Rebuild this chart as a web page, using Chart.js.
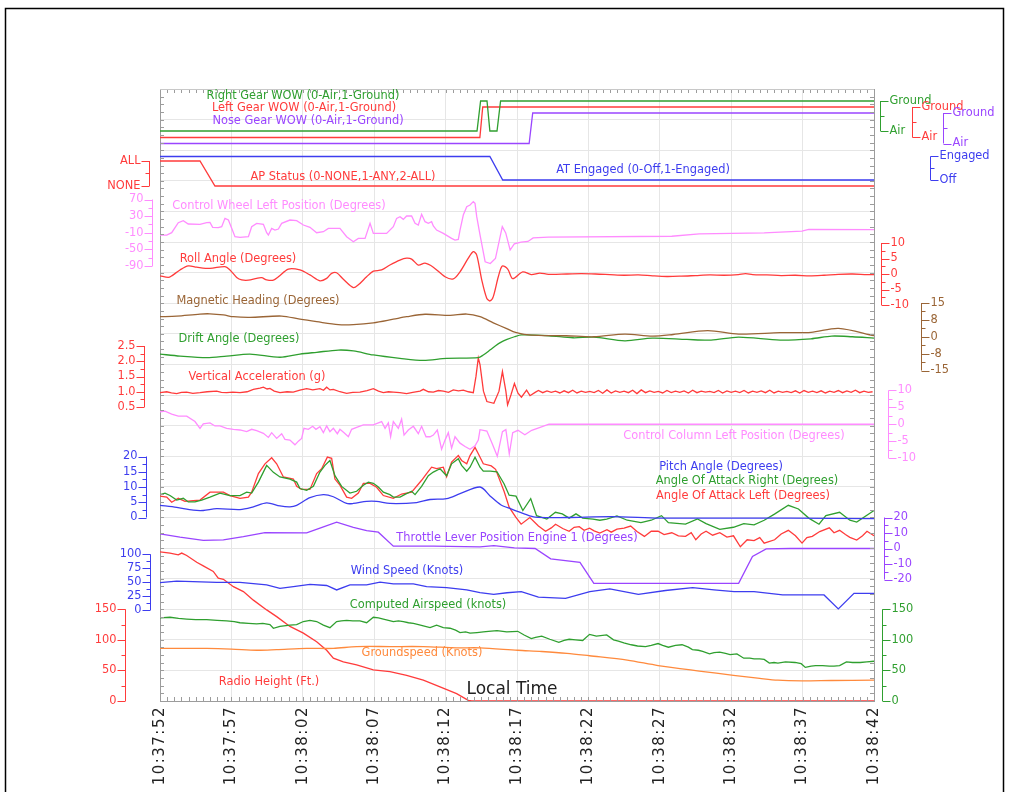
<!DOCTYPE html>
<html>
<head>
<meta charset="utf-8">
<title>Flight data - approach and landing</title>
<script src="https://cdn.jsdelivr.net/npm/chart.js@4.4.1/dist/chart.umd.min.js"></script>
<style>
  html, body { margin: 0; padding: 0; background: #fff; overflow: hidden; }
  canvas { display: block; }
</style>
</head>
<body>
<canvas id="fdr" width="1017" height="792"></canvas>
<script>
// x values are seconds after 10:37:52 local time
const timeLabels = ['10:37:52', '10:37:57', '10:38:02', '10:38:07', '10:38:12', '10:38:17',
                    '10:38:22', '10:38:27', '10:38:32', '10:38:37', '10:38:42'];

// discrete parameters
const rightGearWow = [[0,0],[22.2,0],[22.45,1],[22.9,1],[23.1,0],[23.6,0],[23.85,1],[50,1]];
const leftGearWow = [[0,0],[22.4,0],[22.6,1],[50,1]];
const noseGearWow = [[0,0],[25.85,0],[26.1,1],[50,1]];
const atEngaged = [[0,1],[23.1,1],[24.0,0],[50,0]];
const apStatus = [[0,2],[2.8,2],[3.85,0],[50,0]];

// [seconds, value]
const controlWheel = [[0,-15.5],[0.47,-15.5],[0.82,-9.9],[1.28,14.2],[1.63,19.0],[1.98,11.0],[2.8,10.2],[3.27,14.2],[3.5,15.0],[3.69,3.0],[4.08,2.2],[4.32,4.6],[4.55,24.6],[4.79,20.6],[5.02,0.6],[5.25,-19.5],[5.6,-21.1],[6.19,-19.5],[6.42,4.6],[6.77,12.6],[7.24,10.2],[7.47,-9.9],[7.59,-15.5],[7.82,0.6],[8.05,-3.5],[8.29,-1.1],[8.52,12.6],[9.1,20.6],[9.57,19.0],[10.04,8.6],[10.5,3.0],[10.97,-9.9],[11.44,-7.5],[11.79,0.6],[12.6,0.6],[13.07,-19.5],[13.54,-31.6],[13.89,-23.5],[14.36,-23.5],[14.71,12.6],[14.94,-11.5],[15.87,-11.5],[16.34,4.6],[16.57,24.6],[16.81,28.7],[17.04,22.2],[17.27,30.3],[17.62,30.3],[17.86,12.6],[18.09,8.6],[18.32,34.3],[18.56,16.6],[18.79,12.6],[19.02,16.6],[19.14,6.2],[19.37,-3.5],[19.84,-11.5],[20.42,-23.5],[20.66,-27.6],[20.89,-26.0],[21.01,-3.5],[21.24,32.7],[21.48,52.7],[21.71,56.8],[21.94,64.8],[22.06,60.8],[22.18,28.7],[22.41,-15],[22.77,-80],[23.13,-84],[23.49,-72],[23.97,4.7],[24.21,-10.3],[24.52,-51.5],[24.81,-36.7],[25.29,-32.4],[25.77,-31],[26.13,-22.5],[27.2,-20.6],[35.84,-18.4],[37.76,-12.7],[42.31,-10.3],[44.95,-6.2],[45.43,-2],[50,-2.5]];

const rollAngle = [[0,-0.6],[0.58,-1.1],[0.82,-0.6],[1.4,1.3],[1.98,2.6],[2.57,2.2],[3.5,1.8],[4.55,2.4],[4.9,1.3],[5.37,-1.1],[5.72,-1.9],[6.19,-2.0],[6.77,-1.4],[7.12,-1.2],[7.47,-1.9],[7.94,-2.0],[8.29,-0.9],[8.99,1.6],[9.8,1.3],[10.5,-0.3],[11.2,-2.2],[11.67,-1.4],[12.02,0.2],[12.37,0.4],[12.84,-1.7],[13.54,-4.4],[13.89,-3.5],[14.47,-0.9],[14.94,0.9],[15.52,1.3],[16.1,2.9],[16.8,4.5],[17.27,5.1],[17.62,4.8],[18.09,2.9],[18.56,3.5],[19.14,2.2],[19.96,-0.9],[20.54,-1.6],[21.01,0.7],[21.59,5.1],[21.94,7.2],[22.18,6.1],[22.53,-1.9],[22.88,-7.8],[23.11,-8.7],[23.34,-7.3],[23.69,-0.9],[23.97,2.6],[24.35,1.6],[24.7,-1.5],[25.4,0.7],[26.0,-0.2],[26.6,0.3],[27.2,-0.1],[28.5,0],[29.5,0.1],[30.5,0],[31.5,-0.2],[32.5,-0.4],[33.5,-0.3],[34.5,-0.6],[35.5,-0.8],[36.5,-0.7],[37.5,-0.5],[38.5,-0.3],[39.5,-0.4],[40.5,-0.2],[41,0.1],[41.5,-0.2],[42.5,-0.3],[43.5,-0.5],[44.5,-0.4],[45.5,-0.6],[46.5,-0.4],[47.5,-0.1],[48.5,0],[49.5,-0.2],[50,-0.2]];

const magneticHeading = [[0,8.9],[1.17,9.2],[2.8,10.1],[3.5,10.2],[4.44,9.7],[5.14,8.9],[6.3,8.6],[8.52,9.2],[9.8,7.8],[10.97,6.7],[12.49,5.4],[13.54,5.4],[14.94,6.2],[16.34,7.8],[17.27,8.9],[18.56,10.0],[20.31,9.5],[21.48,10.1],[22.41,8.9],[23.34,6.2],[24.28,3.6],[24.9,1.9],[25.5,1.1],[26.5,0.6],[28.45,0.45],[30.38,0],[32.55,1.2],[34.48,0.3],[35.93,1.0],[38.35,2.7],[40.52,1.2],[43.42,1.8],[45.59,1.95],[47.52,3.75],[50,0.45]];

const driftAngle = [[0,-7.7],[1.4,-8.6],[3.27,-9.3],[4.67,-8.6],[6.3,-7.7],[8.4,-9.1],[9.8,-7.7],[10.97,-6.9],[12.49,-5.9],[13.54,-6.3],[14.94,-8.1],[16.8,-9.6],[18.44,-10.5],[20.07,-9.6],[22.29,-9.3],[22.64,-8.1],[23.13,-5.8],[23.5,-4.0],[23.86,-2.5],[24.3,-1.2],[24.82,0],[25.31,0.8],[27.24,0.45],[28.93,-0.45],[30.38,-0.15],[32.55,-1.8],[34.48,-0.6],[36.9,-1.2],[38.59,-1.5],[40.52,-0.15],[43.42,-1.5],[45.59,-0.9],[47.04,0.3],[48.49,0],[50,-0.6]];

const vertAccel = [[0,0.97],[0.47,1.0],[0.8,0.96],[1.17,0.94],[1.5,0.98],[1.87,0.99],[2.3,0.95],[2.8,0.97],[3.3,1.0],[3.97,1.02],[4.3,0.98],[4.67,0.97],[5.1,0.99],[5.6,0.97],[6.1,1.0],[6.54,1.08],[7.0,1.12],[7.24,1.15],[7.5,1.09],[7.7,1.11],[8.0,1.02],[8.4,0.97],[8.9,1.0],[9.33,0.99],[9.8,1.05],[10.27,1.10],[10.7,1.06],[11.2,1.10],[11.45,1.05],[11.67,1.15],[11.9,1.06],[12.14,1.08],[12.6,1.0],[13.07,0.95],[13.5,0.98],[14.0,0.99],[14.5,1.04],[14.94,1.10],[15.3,1.02],[15.64,0.97],[16.0,1.0],[16.34,0.99],[16.8,0.97],[17.27,0.94],[17.7,0.98],[18.21,1.02],[18.44,1.08],[18.8,1.0],[19.14,0.99],[19.5,1.04],[19.84,1.02],[20.2,0.98],[20.54,1.06],[20.9,1.03],[21.24,1.05],[21.6,1.0],[21.94,0.97],[22.13,1.51],[22.29,2.11],[22.41,1.89],[22.65,1.02],[22.89,0.68],[23.38,0.62],[23.74,1.02],[23.98,1.66],[24.22,1.02],[24.34,0.57],[24.58,0.9],[24.82,1.27],[25.07,0.95],[25.31,0.82],[25.67,1.05],[25.91,0.87],[26.27,0.98]];
// after touchdown, sampled every 0.3 s from 26.5 s
const vertAccelTail = [1.04,0.97,1.03,0.98,1.02,0.96,1.03,0.97,1.05,0.96,
  1.02,0.98,1.01,0.97,1.04,0.95,1.06,0.96,1.03,0.98,
  1.02,0.97,1.05,0.94,1.06,0.97,1.03,0.98,1.01,0.96,
  1.04,0.97,1.02,0.98,1.03,0.96,1.05,0.97,1.02,0.99,
  1.01,0.97,1.04,0.96,1.03,0.98,1.02,0.97,1.04,0.96,
  1.02,0.98,1.03,0.97,1.05,0.96,1.02,0.98,1.01,0.97,
  1.03,0.96,1.04,0.98,1.02,0.97,1.03,0.96,1.02,0.98,
  1.04,0.97,1.03,0.98,1.05,0.97,1.02,0.98,1.00];

const controlColumn = [[0,3.7],[0.35,3.9],[0.82,3.0],[1.28,2.4],[1.87,2.4],[2.45,0.8],[2.8,-1.2],[3.03,0.1],[3.5,0.4],[3.85,-0.5],[4.2,-0.5],[4.67,-1.2],[5.14,-1.5],[5.6,-1.7],[6.07,-2.2],[6.42,-1.5],[6.77,-1.9],[7.24,-2.7],[7.59,-3.9],[7.82,-2.5],[8.17,-4.2],[8.52,-2.8],[8.75,-4.5],[9.1,-4.7],[9.45,-6.1],[9.69,-5.0],[9.92,-4.2],[10.08,-1.2],[10.39,-1.5],[10.69,-0.6],[10.92,-1.5],[11.2,-0.7],[11.44,-2.5],[11.67,-0.5],[11.9,-2.2],[12.14,-1.2],[12.42,-2.8],[12.6,-1.5],[12.89,-2.5],[13.19,-3.7],[13.42,-1.5],[13.77,-0.9],[14.24,-0.2],[14.94,-0.2],[15.52,0.8],[15.76,-1.2],[15.99,0.4],[16.15,-3.7],[16.34,0.8],[16.69,-1.2],[16.92,1.5],[17.09,-3.2],[17.39,-1.7],[17.74,-0.6],[18.09,-2.8],[18.32,-0.6],[18.63,-3.7],[18.91,-3.7],[19.14,-3.2],[19.42,-1.7],[19.72,-7.4],[19.96,-4.7],[20.19,-2.5],[20.42,-7.1],[20.66,-3.7],[21.01,-5.6],[21.36,-6.6],[21.71,-7.4],[22.06,-6.4],[22.29,-4.7],[22.41,-1.6],[22.89,-2.0],[23.26,-5.7],[23.62,-9.5],[23.98,-2.2],[24.22,-1.6],[24.46,-8.8],[24.7,-2.5],[25.07,-1.8],[25.55,-3.1],[26.03,-1.8],[26.52,-1.1],[27.24,0],[50,0]];

const pitchAngle = [[0,4.0],[1.17,3.3],[2.33,2.4],[3.03,2.3],[3.97,2.9],[5.6,2.6],[6.54,3.5],[7.47,4.8],[8.4,3.8],[9.1,3.5],[9.57,4.0],[10.5,6.5],[11.44,7.5],[12.14,6.8],[13.07,4.6],[13.54,4.6],[14.47,5.3],[15.17,5.3],[16.1,4.6],[17.97,4.9],[18.91,5.9],[20.07,6.2],[21.01,7.8],[22.41,10.0],[23.13,7.0],[23.86,4.2],[24.58,2.8],[25.55,1.1],[26.27,0.1],[28.45,0],[31.59,0.3],[34.97,-0.2],[37.87,-0.2],[44.14,-0.2],[50,-0.4]];

const aoaRight = [[0,7.5],[0.35,8.0],[0.7,7.2],[1.17,5.7],[1.63,6.3],[1.98,5.1],[2.45,5.1],[2.92,5.7],[3.5,6.7],[4.2,8.0],[4.9,7.2],[5.6,7.2],[6.07,8.3],[6.42,8.0],[6.89,11.6],[7.47,17.1],[7.94,14.8],[8.4,13.3],[9.1,12.6],[9.57,11.6],[9.8,9.5],[10.27,8.9],[10.74,10.2],[11.2,14.9],[11.55,17.1],[11.9,18.7],[12.25,13.7],[12.72,10.2],[13.3,8.0],[13.77,8.6],[14.24,10.6],[14.59,11.6],[14.94,11.2],[15.29,10.0],[15.64,8.3],[16.1,7.5],[16.34,6.7],[16.81,6.7],[17.16,7.6],[17.62,8.6],[17.86,7.5],[18.32,10.2],[18.79,13.7],[19.14,14.9],[19.61,16.0],[20.07,13.7],[20.42,17.6],[20.89,19.3],[21.12,17.1],[21.48,15.2],[21.71,16.5],[22.06,19.8],[22.41,16.5],[22.64,15.2],[23.13,15.2],[23.6,15.0],[24.1,11.0],[24.45,7.3],[24.93,7.0],[25.41,2.3],[25.96,6.2],[26.37,0.6],[27.09,-0.5],[27.69,1.7],[28.17,1.2],[28.65,-0.2],[29.13,1.2],[29.6,-0.2],[30.32,-0.5],[30.8,-0.9],[31.28,-0.5],[32.0,0.5],[32.72,-0.9],[33.68,-1.7],[34.4,-0.9],[35.12,0.6],[35.6,-1.7],[36.8,-2.2],[37.64,-0.5],[38.24,-2.0],[39.2,-3.9],[40.16,-3.2],[40.88,-2.0],[41.6,-2.4],[42.31,-0.9],[43.03,1.1],[44.0,4.0],[44.71,2.8],[45.43,-0.2],[46.15,-2.2],[46.63,0.6],[47.59,1.7],[48.31,-0.9],[48.79,-1.5],[50,2.3]];

const aoaLeft = [[0,7.0],[0.47,6.7],[0.82,5.0],[1.28,6.3],[1.75,5.3],[2.33,5.5],[2.8,5.7],[3.5,8.3],[4.44,8.3],[4.9,7.2],[5.6,6.3],[6.19,6.7],[6.42,8.3],[6.89,14.4],[7.35,17.6],[7.82,19.6],[8.17,17.6],[8.64,13.3],[9.34,12.6],[9.57,10.2],[9.92,9.2],[10.5,9.2],[10.97,14.4],[11.32,16.0],[11.72,19.8],[12.02,19.4],[12.25,12.6],[12.6,10.6],[13.07,6.7],[13.42,6.3],[13.89,8.0],[14.24,11.2],[14.71,11.2],[15.17,9.9],[15.64,7.2],[16.34,6.3],[16.92,7.7],[17.62,8.3],[18.32,12.2],[18.67,14.4],[19.02,16.5],[19.37,16.0],[19.84,16.5],[20.07,13.4],[20.42,18.2],[20.89,20.3],[21.12,18.7],[21.48,17.6],[21.71,20.3],[22.06,23.0],[22.29,20.9],[22.64,17.6],[23.2,16.9],[23.5,15.8],[24.1,8.5],[24.45,3.4],[24.9,0.2],[25.29,-2.2],[25.9,0],[26.5,-2.8],[27.0,-4.5],[27.4,-3.4],[27.7,-2.2],[28.2,-3.6],[28.65,-4.5],[29.0,-3.2],[29.36,-3.0],[29.7,-4.2],[30.08,-3.5],[30.4,-4.4],[30.8,-5.1],[31.3,-4.0],[31.6,-4.8],[32.0,-3.8],[32.5,-3.5],[32.96,-2.8],[33.4,-4.6],[33.92,-6.2],[34.4,-4.5],[34.88,-4.5],[35.3,-5.6],[35.84,-5.0],[36.3,-6.0],[36.8,-6.2],[37.2,-5.0],[37.52,-7.3],[37.9,-5.4],[38.24,-4.5],[38.7,-5.8],[39.2,-5.0],[39.7,-6.4],[40.16,-6.0],[40.64,-9.6],[41.12,-7.3],[41.6,-7.6],[42.0,-6.6],[42.31,-8.4],[43.04,-7.3],[43.5,-5.4],[44.0,-4.2],[44.5,-6.0],[44.96,-8.4],[45.3,-6.6],[45.68,-6.2],[46.2,-4.6],[46.87,-3.4],[47.2,-5.0],[47.59,-4.2],[48.0,-5.6],[48.31,-6.5],[48.79,-7.4],[49.2,-6.0],[49.51,-4.5],[50,-6.0]];

const throttleLever = [[0,9.5],[1.4,7.3],[3.03,5.2],[4.44,5.6],[5.84,7.7],[7.35,10.3],[10.27,10.1],[11.2,13.1],[12.37,17.0],[13.54,13.7],[14.47,11.6],[15.29,10.5],[16.34,1.5],[19.14,1.5],[22.41,1.1],[23.38,1.8],[24.82,0.4],[26.27,0],[27.36,-6.7],[29.41,-8.9],[30.38,-22.5],[40.52,-22.5],[41.49,-5.1],[42.45,-0.2],[44.14,0],[50,0]];

const windSpeed = [[0,49],[1.17,52],[2.33,51],[3.97,49.5],[5.6,49.5],[7.47,45],[8.4,39],[9.34,42],[10.5,46],[11.67,44],[12.37,36],[13.3,45],[14.47,45],[15.41,50],[16.34,47],[17.74,47],[18.67,42],[20.07,40],[21.48,36],[22.41,31],[23.37,28],[24.3,31],[25.3,33],[26.5,23],[28.4,21],[30.1,33],[31.5,38],[33.5,28],[35.4,35],[37.3,40],[38.8,36],[40.2,33],[41.6,33],[43.6,27],[46.5,27],[47.5,2],[48.6,30],[50,30]];

const computedAirspeed = [[0,136],[0.7,137],[1.3,135],[1.87,134],[2.5,133],[3.27,133],[4.0,132],[4.67,131],[5.2,130],[5.6,128],[6.2,127],[6.77,126],[7.2,127],[7.7,125],[7.94,119],[8.4,122],[9.1,124],[9.57,125],[10.04,130],[10.5,132],[10.97,130],[11.44,124],[11.9,120],[12.37,130],[12.7,131],[13.07,132],[13.5,131],[14.0,131],[14.47,128],[14.94,137],[15.3,136],[15.64,134],[16.0,132],[16.34,130],[16.7,131],[17.04,130],[17.4,128],[17.74,127],[18.1,125],[18.44,123],[18.91,120],[19.37,124],[19.84,120],[20.31,119],[20.7,116],[21.01,112],[21.4,113],[21.71,111],[22.2,112],[22.64,113],[23.0,114],[23.6,115],[24.28,113],[25.05,114],[25.5,108],[26.0,102],[26.3,104],[26.73,106],[27.3,101],[27.93,96],[28.3,99],[28.65,101],[29.1,100],[29.6,99],[30.08,109],[30.56,106],[31.28,108],[31.76,100],[32.1,98],[32.48,95],[33.0,92],[33.44,90],[34.0,89],[34.4,91],[34.88,94],[35.2,91],[35.6,88],[36.1,91],[36.56,92],[37.0,88],[37.28,84],[37.7,83],[38.0,81],[38.48,77],[38.8,79],[39.2,80],[39.6,78],[39.92,76],[40.4,77],[40.88,70],[41.3,70],[41.6,69],[42.0,69],[42.31,68],[42.67,62],[43.0,63],[43.27,62],[43.8,64],[44.47,63],[44.9,61],[45.19,55],[45.6,57],[45.91,58],[46.4,58],[46.87,57],[47.2,57],[47.59,58],[48.07,64],[48.5,63],[49.03,63],[49.5,64],[50,65]];

const groundspeed = [[0,86],[3.27,86],[5.0,85],[6.77,83],[8.17,84],[10.27,86],[12.14,86],[13.77,89],[16.1,89],[18.44,89],[20.77,87],[22.41,87],[25.05,83],[26.73,81],[28.5,78],[30.08,74],[32.72,67],[34.88,58],[37.76,49],[40.16,42],[42.0,37],[43.27,34],[44.95,33],[47,33.5],[50,34]];

const radioHeight = [[0,244],[0.7,242],[1.28,239],[1.52,242],[1.87,238],[2.57,227],[3.03,221],[3.73,212],[4.08,201],[4.44,199],[5.14,187],[5.84,179],[6.54,165],[7.47,149],[8.17,138],[9.1,122],[10.04,111],[10.97,97],[11.67,83],[12.14,70],[12.84,64],[13.77,59],[14.94,51],[16.1,48],[17.27,42],[18.44,34],[19.61,23],[20.77,12],[21.59,1],[21.83,0],[50,0]];

// axis tick values and labels
const gearTicks = [1, 0];
const gearTickLabels = ['Ground', 'Air'];
const atTicks = [1, 0];
const atTickLabels = ['Engaged', 'Off'];
const apTicks = [2, 0];
const apTickLabels = ['ALL', 'NONE'];
const wheelTicks = [70, 30, -10, -50, -90];
const rollTicks = [10, 5, 0, -5, -10];
const headingTicks = [15, 7.5, 0, -7.5, -15];
const headingTickLabels = ['15', '8', '0', '-8', '-15'];
const accelTicks = [2.5, 2.0, 1.5, 1.0, 0.5];
const accelTickLabels = ['2.5', '2.0', '1.5', '1.0', '0.5'];
const columnTicks = [10, 5, 0, -5, -10];
const pitchTicks = [20, 15, 10, 5, 0];
const throttleTicks = [20, 10, 0, -10, -20];
const windTicks = [100, 75, 50, 25, 0];
const speedTicks = [150, 100, 50, 0];

const GREEN = '#2f9f2f', RED = '#ff3b3b', BLUE = '#3d3def', PURPLE = '#9a45ff',
      PINK = '#ff8cff', BROWN = '#9a6536', ORANGE = '#ff8a3d';

// each parameter gets its own hidden axis; band() fixes where two values sit on the page
const TOP = 89, BOTTOM = 701;
function band(v1, p1, v2, p2) {
  const k = (p2 - p1) / (v2 - v1);
  return { min: v1 + (BOTTOM - p1) / k, max: v1 + (TOP - p1) / k };
}
const axisPlace = {
  yRG: band(1, 101, 0, 131),
  yLG: band(1, 107, 0, 137.5),
  yNG: band(1, 113, 0, 143.5),
  yAT: band(1, 156.5, 0, 180),
  yAP: band(2, 161, 0, 186),
  yCW: band(70, 199.5, -90, 266),
  yRoll: band(10, 243, -10, 305),
  yHead: band(15, 303, -15, 370.5),
  yAcc: band(2.5, 346, 0.5, 407),
  yCC: band(10, 390.5, -10, 458),
  yPitch: band(20, 456.5, 0, 517.5),
  yThr: band(20, 517.5, -20, 579.5),
  yWind: band(100, 554.3, 0, 610),
  ySpd: band(150, 609.3, 0, 701)
};

const axisMarks = [
  { id: 'yRG', x: 880, side: 1, color: GREEN, ticks: gearTicks, labels: gearTickLabels },
  { id: 'yLG', x: 912, side: 1, color: RED, ticks: gearTicks, labels: gearTickLabels },
  { id: 'yNG', x: 943, side: 1, color: PURPLE, ticks: gearTicks, labels: gearTickLabels },
  { id: 'yAT', x: 930, side: 1, color: BLUE, ticks: atTicks, labels: atTickLabels },
  { id: 'yAP', x: 149, side: -1, color: RED, ticks: apTicks, labels: apTickLabels },
  { id: 'yCW', x: 152, side: -1, color: PINK, ticks: wheelTicks },
  { id: 'yRoll', x: 881, side: 1, color: RED, ticks: rollTicks },
  { id: 'yHead', x: 921, side: 1, color: BROWN, ticks: headingTicks, labels: headingTickLabels },
  { id: 'yAcc', x: 144, side: -1, color: RED, ticks: accelTicks, labels: accelTickLabels },
  { id: 'yCC', x: 888, side: 1, color: PINK, ticks: columnTicks },
  { id: 'yPitch', x: 146, side: -1, color: BLUE, ticks: pitchTicks },
  { id: 'yThr', x: 884, side: 1, color: PURPLE, ticks: throttleTicks },
  { id: 'yWind', x: 150, side: -1, color: BLUE, ticks: windTicks },
  { id: 'ySpd', x: 882, side: 1, color: GREEN, ticks: speedTicks },
  { id: 'ySpd', x: 125, side: -1, color: RED, ticks: speedTicks }
];

function pts(arr) { return arr.map(p => ({ x: p[0], y: p[1] })); }
function series(label, data, axis, color, tag, smooth) {
  return { label, data: pts(data), yAxisID: axis, borderColor: color, backgroundColor: color,
           borderWidth: 1.3, pointRadius: 0, tension: smooth ? 0.3 : 0, fill: false, tag };
}

const accelAll = vertAccel.concat(vertAccelTail.map((v, i) => [26.5 + i * 0.3, v]));

const datasets = [
  series('Right Gear WOW (0-Air,1-Ground)', rightGearWow, 'yRG', GREEN, [303, 96]),
  series('Left Gear WOW (0-Air,1-Ground)', leftGearWow, 'yLG', RED, [304, 108.5]),
  series('Nose Gear WOW (0-Air,1-Ground)', noseGearWow, 'yNG', PURPLE, [308, 121]),
  series('AT Engaged (0-Off,1-Engaged)', atEngaged, 'yAT', BLUE, [643, 170]),
  series('AP Status (0-NONE,1-ANY,2-ALL)', apStatus, 'yAP', RED, [343, 177]),
  series('Control Wheel Left Position (Degrees)', controlWheel, 'yCW', PINK, [279, 206]),
  series('Roll Angle (Degrees)', rollAngle, 'yRoll', RED, [238, 259], true),
  series('Magnetic Heading (Degrees)', magneticHeading, 'yHead', BROWN, [258, 301], true),
  series('Drift Angle (Degrees)', driftAngle, 'yHead', GREEN, [239, 339], true),
  series('Vertical Acceleration (g)', accelAll, 'yAcc', RED, [257, 377.5]),
  series('Control Column Left Position (Degrees)', controlColumn, 'yCC', PINK, [734, 436.5]),
  series('Pitch Angle (Degrees)', pitchAngle, 'yPitch', BLUE, [721, 467], true),
  series('Angle Of Attack Right (Degrees)', aoaRight, 'yPitch', GREEN, [747, 481.5]),
  series('Angle Of Attack Left (Degrees)', aoaLeft, 'yPitch', RED, [743, 496.5]),
  series('Throttle Lever Position Engine 1 (Degrees)', throttleLever, 'yThr', PURPLE, [517, 538]),
  series('Wind Speed (Knots)', windSpeed, 'yWind', BLUE, [407, 571]),
  series('Computed Airspeed (knots)', computedAirspeed, 'ySpd', GREEN, [428, 605]),
  series('Groundspeed (Knots)', groundspeed, 'ySpd', ORANGE, [422, 653.5], true),
  series('Radio Height (Ft.)', radioHeight, 'ySpd', RED, [269, 682])
];

const scales = {
  x: {
    type: 'linear', position: 'bottom', min: 0, max: 50,
    ticks: { stepSize: 5, autoSkip: false, minRotation: 90, maxRotation: 90, padding: 5,
             color: '#222', font: { size: 15 }, callback: v => timeLabels[Math.round(v / 5)] },
    grid: { color: '#e6e6e6', drawTicks: false },
    border: { color: '#9c9c9c' },
    afterFit: s => { s.height = 792 - BOTTOM; }
  },
  yGrid: {
    type: 'linear', position: 'left', min: 0, max: 20,
    ticks: { display: false, stepSize: 1 },
    grid: { color: '#e6e6e6', drawTicks: false },
    border: { color: '#9c9c9c' },
    afterFit: s => { s.width = 0; }
  }
};
Object.keys(axisPlace).forEach(id => {
  scales[id] = { type: 'linear', display: false, min: axisPlace[id].min, max: axisPlace[id].max };
});

function drawAxisMark(ctx, chart, m) {
  const s = chart.scales[m.id];
  const ys = m.ticks.map(v => s.getPixelForValue(v));
  const x = Math.round(m.x) + 0.5;
  ctx.strokeStyle = m.color;
  ctx.lineWidth = 1;
  ctx.beginPath();
  ctx.moveTo(x, Math.min(...ys));
  ctx.lineTo(x, Math.max(...ys));
  ys.forEach(y => { ctx.moveTo(x, Math.round(y) + 0.5); ctx.lineTo(x + m.side * 8, Math.round(y) + 0.5); });
  for (let i = 0; i < m.ticks.length - 1; i++) {
    const y = Math.round(s.getPixelForValue((m.ticks[i] + m.ticks[i + 1]) / 2)) + 0.5;
    ctx.moveTo(x, y); ctx.lineTo(x + m.side * 4, y);
  }
  ctx.stroke();
  ctx.fillStyle = m.color;
  ctx.font = '11.4px "DejaVu Sans"';
  ctx.textAlign = m.side > 0 ? 'left' : 'right';
  ctx.textBaseline = 'middle';
  const labels = m.labels || m.ticks.map(String);
  ys.forEach((y, i) => ctx.fillText(labels[i], x + m.side * 9, y));
}

const decor = {
  id: 'decor',
  beforeDraw(chart) {
    const ctx = chart.ctx;
    ctx.save();
    ctx.fillStyle = '#fff';
    ctx.fillRect(0, 0, chart.width, chart.height);
    ctx.strokeStyle = '#000';
    ctx.lineWidth = 1.5;
    ctx.strokeRect(5.5, 8.5, 998, 900);
    ctx.restore();
    ctx.letterSpacing = '1.5px';
  },
  beforeDatasetsDraw(chart) {
    chart.ctx.letterSpacing = '0px';
  },
  afterDatasetsDraw(chart) {
    const ctx = chart.ctx;
    const a = chart.chartArea;
    const xs = chart.scales.x, gs = chart.scales.yGrid;
    ctx.save();
    ctx.letterSpacing = '0px';
    // plot frame and its small inside ticks
    ctx.strokeStyle = '#9c9c9c';
    ctx.lineWidth = 1;
    ctx.beginPath();
    ctx.moveTo(a.right + 0.5, a.top); ctx.lineTo(a.right + 0.5, a.bottom);
    for (let t = 0; t <= 50; t += 0.5) {
      const x = Math.round(xs.getPixelForValue(t)) + 0.5;
      ctx.moveTo(x, a.bottom); ctx.lineTo(x, a.bottom - 4);
      ctx.moveTo(x, a.top); ctx.lineTo(x, a.top + 4);
    }
    for (let g = 0; g <= 20; g += 0.25) {
      const y = Math.round(gs.getPixelForValue(g)) + 0.5;
      ctx.moveTo(a.left, y); ctx.lineTo(a.left + 4, y);
      ctx.moveTo(a.right, y); ctx.lineTo(a.right - 4, y);
    }
    ctx.stroke();
    ctx.strokeStyle = '#c8c8c8';
    ctx.beginPath();
    ctx.moveTo(a.left, a.top + 0.5); ctx.lineTo(a.right, a.top + 0.5);
    ctx.stroke();

    axisMarks.forEach(m => drawAxisMark(ctx, chart, m));

    // parameter names
    ctx.font = '11.4px "DejaVu Sans"';
    ctx.textAlign = 'center';
    ctx.textBaseline = 'middle';
    chart.data.datasets.forEach(d => {
      ctx.fillStyle = d.borderColor;
      ctx.fillText(d.label, d.tag[0], d.tag[1]);
    });
    ctx.fillStyle = '#222';
    ctx.font = '17px "DejaVu Sans"';
    ctx.fillText('Local Time', 512, 690);
    ctx.restore();
  }
};

Chart.defaults.font.family = '"DejaVu Sans", Verdana, sans-serif';

new Chart(document.getElementById('fdr').getContext('2d'), {
  type: 'line',
  data: { datasets },
  options: {
    responsive: false,
    animation: false,
    layout: { padding: { left: 160, right: 1017 - 874, top: TOP, bottom: 0 } },
    scales,
    plugins: { legend: { display: false }, tooltip: { enabled: false } }
  },
  plugins: [decor]
});
</script>
</body>
</html>
